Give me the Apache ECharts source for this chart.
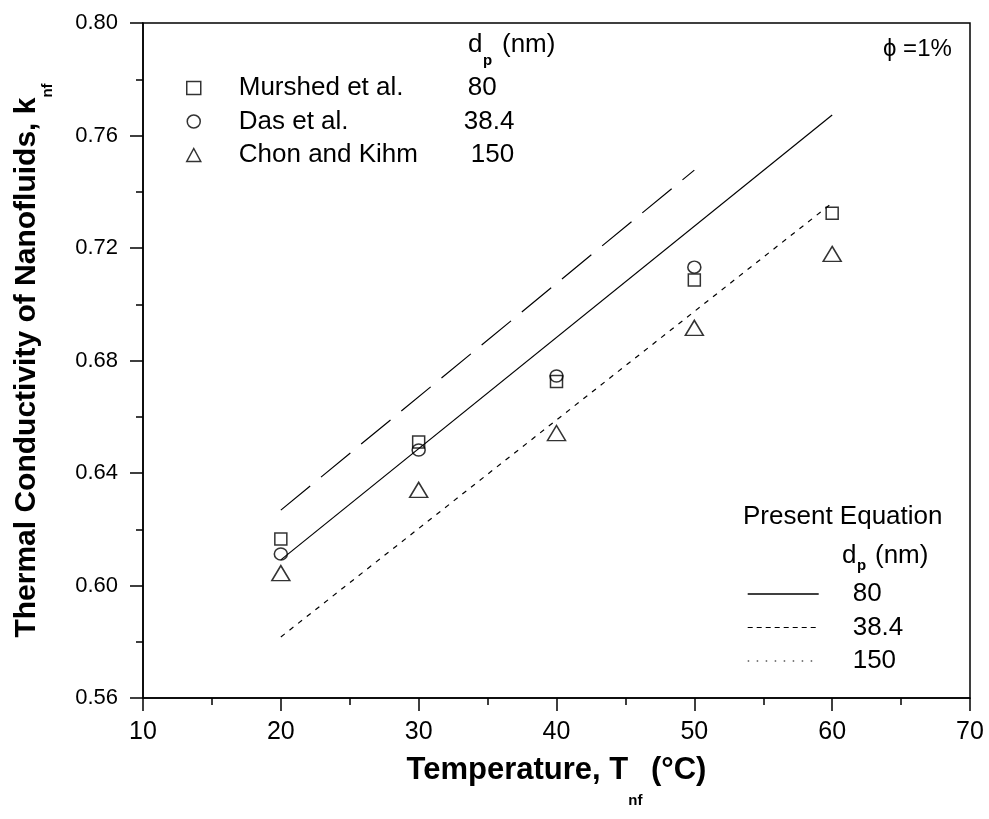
<!DOCTYPE html>
<html><head><meta charset="utf-8">
<script src="https://cdn.jsdelivr.net/npm/echarts@6.0.0/dist/echarts.min.js"></script>
<style>html,body{margin:0;padding:0;background:#fff}#c{width:989px;height:819px}</style>
</head><body><div id="c"></div>
<script>
// ---- data ----
const temps = [20, 30, 40, 50, 60];
const murshed = [0.6165, 0.651, 0.6725, 0.7086, 0.7324];
const das = [0.6112, 0.6482, 0.6745, 0.7132];
const chon = [0.6044, 0.634, 0.6542, 0.6916, 0.7179];

const eqT80 = [20, 60];
const eq80 = [0.6091, 0.7673];
const eqT384 = [20, 50];
const eq384 = [0.6268, 0.7477];
const eqT150 = [20, 60];
const eq150 = [0.5817, 0.736];

const expNames = ['Murshed et al.', 'Das et al.', 'Chon and Kihm'];
const expDp = ['80', '38.4', '150'];
const eqNames = ['80', '38.4', '150'];

const xTickLabels = ['10', '20', '30', '40', '50', '60', '70'];
const yTickLabels = ['0.56', '0.60', '0.64', '0.68', '0.72', '0.76', '0.80'];
const xMin = 10, xMax = 70, xStep = 10;
const yMin = 0.56, yMax = 0.80, yStep = 0.04;

// ---- chart ----
const FF = "'Liberation Sans', Arial, sans-serif";
const chart = echarts.init(document.getElementById('c'));
const pairs = (xs, ys) => ys.map((v, i) => [xs[i], v]);
const markerStyle = { color: 'rgba(255,255,255,0)', borderColor: '#000', borderWidth: 1.5 };
const dpKey = { '80': 'v1', '38.4': 'v2', '150': 'v3' };
const hidden = { color: 'rgba(0,0,0,0)', borderWidth: 0, opacity: 0 };

const option = {
  backgroundColor: '#fff',
  animation: false,
  grid: { left: 143, right: 19, top: 23, bottom: 121, show: true, borderColor: '#000', borderWidth: 1.5, backgroundColor: 'transparent' },
  xAxis: {
    type: 'value', min: xMin, max: xMax, interval: xStep,
    axisLine: { lineStyle: { color: '#000', width: 1.5 } },
    axisTick: { length: 13, lineStyle: { color: '#000', width: 1.5 } },
    minorTick: { show: true, splitNumber: 2, length: 7, lineStyle: { color: '#000', width: 1.5 } },
    splitLine: { show: false },
    axisLabel: { margin: 22, fontFamily: FF, fontSize: 25, color: '#000',
      formatter: v => xTickLabels[Math.round((v - xMin) / xStep)] },
    name: '{a|Temperature, T}{s|nf}{a| (°C)}',
    nameLocation: 'middle', nameGap: 57,
    nameTextStyle: { rich: {
      a: { fontFamily: FF, fontSize: 31, fontWeight: 'bold', color: '#000', lineHeight: 34, verticalAlign: 'top' },
      s: { fontFamily: FF, fontSize: 15, fontWeight: 'bold', color: '#000', lineHeight: 18, padding: [38, 0, 0, 0], verticalAlign: 'top' }
    } }
  },
  yAxis: {
    type: 'value', min: yMin, max: yMax, interval: yStep,
    axisLine: { show: true, lineStyle: { color: '#000', width: 1.5 } },
    axisTick: { show: true, length: 13, lineStyle: { color: '#000', width: 1.5 } },
    minorTick: { show: true, splitNumber: 2, length: 7, lineStyle: { color: '#000', width: 1.5 } },
    splitLine: { show: false },
    axisLabel: { margin: 25, fontFamily: FF, fontSize: 22, color: '#000',
      formatter: v => yTickLabels[Math.round((v - yMin) / yStep)] },
    name: '{a|Thermal Conductivity of Nanofluids, k}{s|nf}',
    nameLocation: 'middle', nameRotate: 90, nameGap: 97,
    nameTextStyle: { rich: {
      a: { fontFamily: FF, fontSize: 30, fontWeight: 'bold', color: '#000', lineHeight: 34, verticalAlign: 'top' },
      s: { fontFamily: FF, fontSize: 15, fontWeight: 'bold', color: '#000', lineHeight: 18, padding: [28, 0, 0, 0], verticalAlign: 'top' }
    } }
  },
  legend: [
    {
      id: 'exp', orient: 'vertical', left: 181, top: 68, itemWidth: 14, itemHeight: 13, itemGap: 3.5,
      data: expNames, selectedMode: false,
      itemStyle: { color: 'rgba(255,255,255,0)', borderColor: '#000', borderWidth: 1.5 },
      formatter: name => {
        const dp = expDp[expNames.indexOf(name)];
        return '{n|' + name + '}{' + dpKey[dp] + '|' + dp + '}';
      },
      textStyle: { fontFamily: FF, fontSize: 26, color: '#000', lineHeight: 30, rich: {
        n: { fontFamily: FF, fontSize: 26, color: '#000', width: 225, padding: [0, 0, 0, 33] },
        v1: { fontFamily: FF, fontSize: 26, color: '#000', padding: [0, 0, 0, 4] },
        v2: { fontFamily: FF, fontSize: 26, color: '#000' },
        v3: { fontFamily: FF, fontSize: 26, color: '#000', padding: [0, 0, 0, 7] }
      } }
    },
    {
      id: 'eq', orient: 'vertical', left: 742, top: 574, itemWidth: 71, itemHeight: 14, itemGap: 3.5,
      selectedMode: false,
      itemStyle: hidden,
      data: [
        { name: eqNames[0], itemStyle: hidden, lineStyle: { type: 'solid', width: 1.4, color: '#000' } },
        { name: eqNames[1], itemStyle: hidden, lineStyle: { type: [5, 4], width: 1.2, color: '#000' } },
        { name: eqNames[2], itemStyle: hidden, lineStyle: { type: [1.5, 7.5], width: 1.2, color: '#000' } }
      ],
      textStyle: { fontFamily: FF, fontSize: 26, color: '#000', lineHeight: 30, padding: [0, 0, 0, 29] }
    }
  ],
  graphic: [
    { type: 'text', x: 468, y: 45, style: { text: 'd', font: '26px ' + FF, fill: '#000', verticalAlign: 'middle' } },
    { type: 'text', x: 483, y: 61, style: { text: 'p', font: 'bold 15px ' + FF, fill: '#000', verticalAlign: 'middle' } },
    { type: 'text', x: 502, y: 45, style: { text: '(nm)', font: '26px ' + FF, fill: '#000', verticalAlign: 'middle' } },
    { type: 'text', x: 883, y: 49, style: { text: 'ϕ =1%', font: '24px ' + FF, fill: '#000', verticalAlign: 'middle' } },
    { type: 'text', x: 743, y: 517, style: { text: 'Present Equation', font: '26px ' + FF, fill: '#000', verticalAlign: 'middle' } },
    { type: 'text', x: 842, y: 556, style: { text: 'd', font: '26px ' + FF, fill: '#000', verticalAlign: 'middle' } },
    { type: 'text', x: 857, y: 566, style: { text: 'p', font: 'bold 15px ' + FF, fill: '#000', verticalAlign: 'middle' } },
    { type: 'text', x: 875, y: 556, style: { text: '(nm)', font: '26px ' + FF, fill: '#000', verticalAlign: 'middle' } }
  ],
  series: [
    { name: eqNames[0], type: 'line', data: pairs(eqT80, eq80), symbol: 'none', z: 2,
      itemStyle: { color: '#000' }, lineStyle: { color: '#000', width: 1.2, type: 'solid' } },
    { name: eqNames[1], type: 'line', data: pairs(eqT384, eq384), symbol: 'none', z: 2,
      itemStyle: { color: '#000' }, lineStyle: { color: '#000', width: 1.2, type: [38, 14] } },
    { name: eqNames[2], type: 'line', data: pairs(eqT150, eq150), symbol: 'none', z: 2,
      itemStyle: { color: '#000' }, lineStyle: { color: '#000', width: 1.2, type: [5, 6] } },
    { name: expNames[0], type: 'scatter', data: pairs(temps, murshed), symbol: 'rect', symbolSize: 12, z: 3, itemStyle: markerStyle },
    { name: expNames[1], type: 'scatter', data: pairs(temps, das), symbol: 'circle', symbolSize: [13, 12], z: 3, itemStyle: markerStyle },
    { name: expNames[2], type: 'scatter', data: pairs(temps, chon), symbol: 'triangle', symbolSize: [18, 15], z: 3, itemStyle: markerStyle }
  ]
};
chart.setOption(option);
</script>
</body></html>
